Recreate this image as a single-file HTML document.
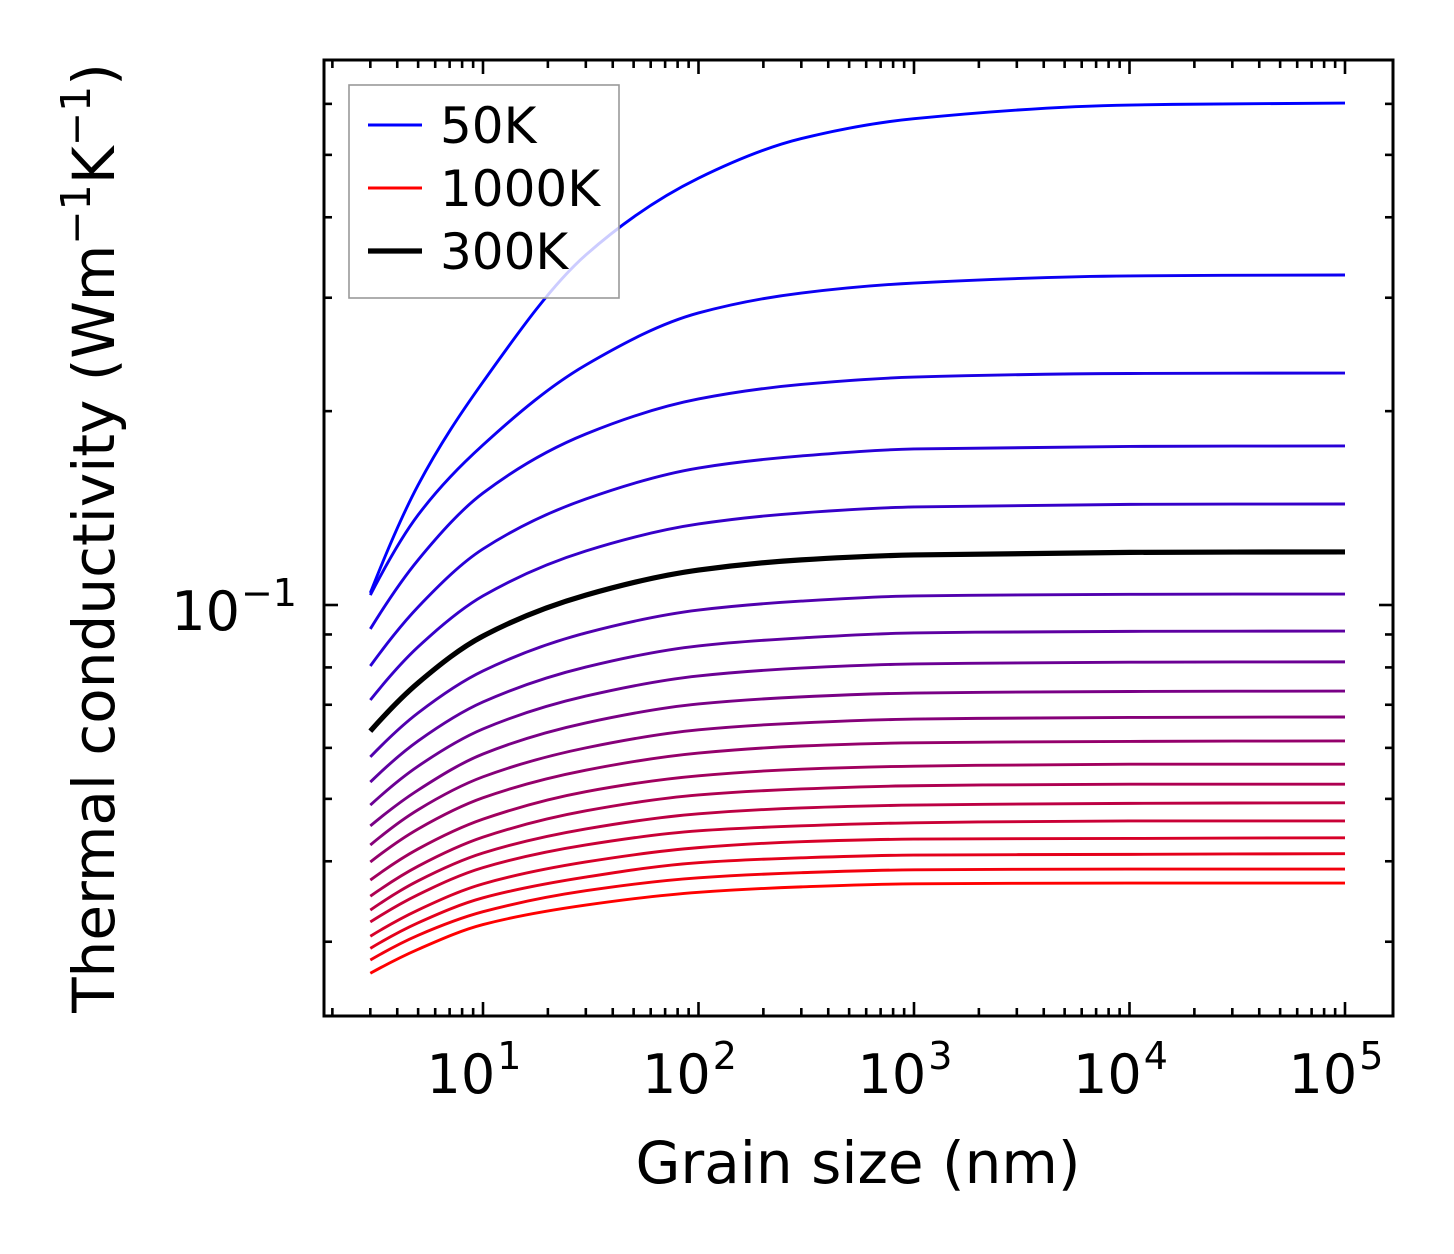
<!DOCTYPE html>
<html><head><meta charset="utf-8">
<style>
html,body{margin:0;padding:0;background:#fff;}
svg{display:block;font-family:"DejaVu Sans","Liberation Sans",sans-serif;}
</style></head>
<body>
<svg id="chart" width="1454" height="1254" viewBox="0 0 1454 1254" xmlns="http://www.w3.org/2000/svg">
<rect width="1454" height="1254" fill="#fff"/>
<g id="series"></g>
<g id="axes"></g>
<g id="legend"></g>
</svg>
<script>
const grainSizes = [3, 5, 10, 30, 100, 300, 1000, 10000, 100000];
const temperatures = [50,100,150,200,250,300,350,400,450,500,550,600,650,700,750,800,850,900,950,1000];
const k50 = [0.1044,0.1536,0.2220,0.3496,0.4600,0.5300,0.5690,0.5975,0.6018];
const k100 = [0.1036,0.1380,0.1772,0.2359,0.2841,0.3051,0.3162,0.3243,0.3254];
const k150 = [0.0918,0.1175,0.1492,0.1843,0.2089,0.2200,0.2259,0.2288,0.2292];
const k200 = [0.0804,0.0993,0.1222,0.1461,0.1632,0.1704,0.1747,0.1763,0.1766];
const k250 = [0.0712,0.0861,0.1033,0.1213,0.1336,0.1390,0.1420,0.1433,0.1435];
const k300 = [0.0637,0.0757,0.0895,0.1036,0.1133,0.1175,0.1196,0.1207,0.1209];
const k350 = [0.0581,0.0680,0.0790,0.0905,0.0982,0.1014,0.1033,0.1039,0.1040];
const k400 = [0.0531,0.0615,0.0707,0.0801,0.0864,0.0889,0.0905,0.0910,0.0911];
const k450 = [0.0489,0.0562,0.0642,0.0722,0.0776,0.0798,0.0810,0.0815,0.0816];
const k500 = [0.0454,0.0516,0.0587,0.0656,0.0702,0.0720,0.0730,0.0734,0.0735];
const k550 = [0.0424,0.0481,0.0541,0.0600,0.0640,0.0656,0.0665,0.0669,0.0670];
const k600 = [0.0399,0.0449,0.0502,0.0554,0.0589,0.0604,0.0611,0.0614,0.0615];
const k650 = [0.0374,0.0418,0.0465,0.0513,0.0543,0.0556,0.0562,0.0566,0.0566];
const k700 = [0.0353,0.0393,0.0436,0.0479,0.0507,0.0518,0.0524,0.0527,0.0527];
const k750 = [0.0336,0.0373,0.0412,0.0449,0.0474,0.0484,0.0489,0.0492,0.0493];
const k800 = [0.0322,0.0355,0.0391,0.0424,0.0446,0.0454,0.0459,0.0462,0.0462];
const k850 = [0.0306,0.0336,0.0369,0.0399,0.0420,0.0429,0.0433,0.0434,0.0435];
const k900 = [0.0293,0.0321,0.0351,0.0378,0.0398,0.0405,0.0409,0.0410,0.0411];
const k950 = [0.0281,0.0307,0.0334,0.0360,0.0377,0.0384,0.0388,0.0389,0.0389];
const k1000 = [0.0268,0.0292,0.0319,0.0342,0.0358,0.0365,0.0369,0.0370,0.0370];
const seriesList = [k50,k100,k150,k200,k250,k300,k350,k400,k450,k500,k550,k600,k650,k700,k750,k800,k850,k900,k950,k1000];
const highlightSeries = k300;
const xTickExps = [1,2,3,4,5];
const yTickExps = [-1];
const yMinorVals = [0.03,0.04,0.05,0.06,0.07,0.08,0.09,0.2,0.3,0.4,0.5,0.6,0.7];
const legendLabels = ["50K","1000K","300K"];

const NS = "http://www.w3.org/2000/svg";
const L = 324, R = 1393, T = 60, B = 1016;
const xDec = 215.5, x10 = 483;
const yDec = 644, y01 = 605;
function xs(v){ return x10 + (Math.log10(v) - 1) * xDec; }
function ys(v){ return y01 - (Math.log10(v) + 1) * yDec; }
function mk(tag, attrs, parent){ const e = document.createElementNS(NS, tag); for (const k in attrs) e.setAttribute(k, attrs[k]); parent.appendChild(e); return e; }

function smoothPath(vals){
  const px = grainSizes.map(xs), py = vals.map(ys);
  const n = px.length, h = [], d = [], m = [];
  for (let i=0;i<n-1;i++){ h.push(px[i+1]-px[i]); d.push((py[i+1]-py[i])/h[i]); }
  for (let i=1;i<n-1;i++){
    if (d[i-1]*d[i] <= 0) { m[i] = 0; continue; }
    const w1 = 2*h[i]+h[i-1], w2 = h[i]+2*h[i-1];
    m[i] = (w1+w2)/(w1/d[i-1] + w2/d[i]);
  }
  m[0] = ((2*h[0]+h[1])*d[0] - h[0]*d[1])/(h[0]+h[1]);
  if (m[0]*d[0] <= 0) m[0] = 0;
  m[n-1] = 0;
  let s = "M" + px[0].toFixed(2) + "," + py[0].toFixed(2);
  for (let i=0;i<n-1;i++){
    const hh = h[i];
    s += " C" + (px[i]+hh/3).toFixed(2) + "," + (py[i]+m[i]*hh/3).toFixed(2) + " " + (px[i+1]-hh/3).toFixed(2) + "," + (py[i+1]-m[i+1]*hh/3).toFixed(2) + " " + px[i+1].toFixed(2) + "," + py[i+1].toFixed(2);
  }
  return s;
}
function colorFor(i, n){ const t = i/(n-1); return "rgb(" + Math.round(255*t) + ",0," + Math.round(255*(1-t)) + ")"; }

const sg = document.getElementById("series");
const clip = mk("clipPath", {id:"plotclip"}, sg);
mk("rect", {x:L, y:T, width:R-L, height:B-T}, clip);
sg.setAttribute("clip-path", "url(#plotclip)");
seriesList.forEach((vals, i) => {
  const p = mk("path", {d: smoothPath(vals), fill:"none", stroke: colorFor(i, seriesList.length), "stroke-width": 2.9}, sg);
  
  
});
const hp = mk("path", {d: smoothPath(highlightSeries), fill:"none", stroke:"#000", "stroke-width": 5.2}, sg);



const ax = document.getElementById("axes");
const frame = mk("rect", {x:L, y:T, width:R-L, height:B-T, fill:"none", stroke:"#000", "stroke-width":3}, ax);


function tick(x1,y1,x2,y2){ mk("line",{x1:x1,y1:y1,x2:x2,y2:y2,stroke:"#000","stroke-width":2.6},ax); }
const MAJ = 14, MIN = 8;
xTickExps.forEach(e => {
  const x = xs(Math.pow(10,e));
  tick(x,B,x,B-MAJ); tick(x,T,x,T+MAJ);
  const t = mk("text",{x:x-9, y:1093, "font-size":54, "text-anchor":"middle", fill:"#000"}, ax);
  
  
  t.textContent = "10";
  const sup = mk("tspan",{dx:2, dy:-24, "font-size":38}, t);
  sup.textContent = String(e);
});
for (let e=0;e<=5;e++){ for (let k=2;k<=9;k++){ const v=k*Math.pow(10,e); const x=xs(v); if (x<=L+1||x>=R-1) continue; tick(x,B,x,B-MIN); tick(x,T,x,T+MIN); } }
yTickExps.forEach(e => {
  const y = ys(Math.pow(10,e));
  tick(L,y,L+MAJ,y); tick(R,y,R-MAJ,y);
  const t = mk("text",{x:297, y:y+25, "font-size":54, "text-anchor":"end", fill:"#000"}, ax);
  
  
  t.textContent = "10";
  const sup = mk("tspan",{dx:1, dy:-24, "font-size":38}, t);
  sup.textContent = "\u2212" + String(-e);
});
yMinorVals.forEach(v => { const y = ys(v); if (y<=T+1||y>=B-1) return; tick(L,y,L+MIN,y); tick(R,y,R-MIN,y); });

const xt = mk("text",{x:858, y:1183, "font-size":58, "text-anchor":"middle", fill:"#000"}, ax);


xt.textContent = "Grain size (nm)";
const yt = mk("text",{x:0, y:0, "font-size":58, "text-anchor":"middle", fill:"#000", transform:"translate(114,538) rotate(-90)"}, ax);


yt.textContent = "Thermal conductivity (Wm";
const s1 = mk("tspan",{dy:-24,"font-size":41}, yt); s1.textContent = "\u22121";
const s2 = mk("tspan",{dy:24}, yt); s2.textContent = "K";
const s3 = mk("tspan",{dy:-24,"font-size":41}, yt); s3.textContent = "\u22121";
const s4 = mk("tspan",{dy:24}, yt); s4.textContent = ")";

const lg = document.getElementById("legend");
const box = mk("rect",{x:349, y:85, width:270, height:213, fill:"rgba(255,255,255,0.8)", stroke:"#999", "stroke-width":1.6}, lg);


const legendColors = ["rgb(0,0,255)","rgb(255,0,0)","#000"];
const legendWidths = [2.9,2.9,5.2];
legendLabels.forEach((lab, i) => {
  const y = 125 + i*63;
  const ln = mk("line",{x1:368, y1:y, x2:422, y2:y, stroke:legendColors[i], "stroke-width":legendWidths[i]}, lg);
  
  
  const tx = mk("text",{x:440, y:y+18, "font-size":50, fill:"#000"}, lg);
  
  
  tx.textContent = lab;
});
</script>
</body></html>
